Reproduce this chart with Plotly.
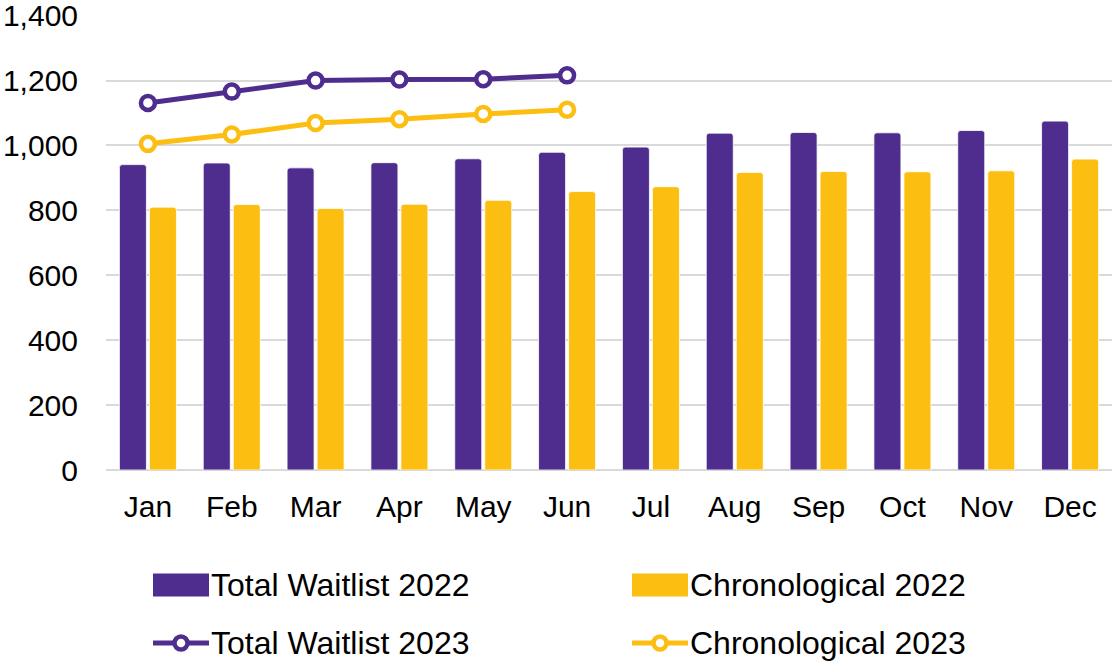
import plotly.graph_objects as go

months = ["Jan", "Feb", "Mar", "Apr", "May", "Jun", "Jul", "Aug", "Sep", "Oct", "Nov", "Dec"]
total_2022 = [941, 946, 931, 947, 959, 979, 995, 1038, 1040, 1039, 1046, 1075]
chrono_2022 = [810, 818, 806, 819, 831, 858, 873, 917, 920, 919, 922, 958]
months_2023 = ["Jan", "Feb", "Mar", "Apr", "May", "Jun"]
total_2023 = [1131, 1166, 1200, 1203, 1204, 1216]
chrono_2023 = [1005, 1034, 1069, 1081, 1097, 1110]
y_ticks = [0, 200, 400, 600, 800, 1000, 1200, 1400]

PURPLE = "#4e2d8e"
GOLD = "#fdbe12"
FONT = "Liberation Sans, Arial, sans-serif"

W, H = 1112, 664
# plot area in pixels
SL, SR, ST, SB = 106, 1112, 15, 470
Y_MAX = 1402  # a hair above 1,400 so the top gridline is drawn

fig = go.Figure()
fig.add_trace(go.Bar(x=months, y=total_2022, name="Total Waitlist 2022",
                     marker=dict(color=PURPLE, line=dict(color="white", width=0.8))))
fig.add_trace(go.Bar(x=months, y=chrono_2022, name="Chronological 2022",
                     marker=dict(color=GOLD, line=dict(color="white", width=0.8))))
fig.add_trace(go.Scatter(x=months_2023, y=total_2023, name="Total Waitlist 2023",
                         mode="lines+markers", line=dict(color=PURPLE, width=5),
                         marker=dict(symbol="circle", size=14, color="white",
                                     line=dict(color=PURPLE, width=4.5))))
fig.add_trace(go.Scatter(x=months_2023, y=chrono_2023, name="Chronological 2023",
                         mode="lines+markers", line=dict(color=GOLD, width=5),
                         marker=dict(symbol="circle", size=14, color="white",
                                     line=dict(color=GOLD, width=4.5))))


def px(x):
    return (x - SL) / (SR - SL)


def py(y):
    return (SB - y) / (SB - ST)


shapes = []
annotations = []
legend_items = [
    ("Total Waitlist 2022", PURPLE, "bar", 153, 585),
    ("Chronological 2022", GOLD, "bar", 632, 585),
    ("Total Waitlist 2023", PURPLE, "line", 153, 643),
    ("Chronological 2023", GOLD, "line", 632, 643),
]
for name, color, kind, x0, yc in legend_items:
    if kind == "bar":
        shapes.append(dict(type="rect", xref="paper", yref="paper",
                           x0=px(x0), x1=px(x0 + 56), y0=py(yc - 11.5), y1=py(yc + 11.5),
                           fillcolor=color, line=dict(width=0)))
    else:
        shapes.append(dict(type="line", xref="paper", yref="paper",
                           x0=px(x0), x1=px(x0 + 56), y0=py(yc), y1=py(yc),
                           line=dict(color=color, width=5)))
        shapes.append(dict(type="circle", xref="paper", yref="paper",
                           x0=px(x0 + 28 - 6.5), x1=px(x0 + 28 + 6.5),
                           y0=py(yc - 6.5), y1=py(yc + 6.5),
                           fillcolor="white", line=dict(color=color, width=4.5)))
    annotations.append(dict(text=name, xref="paper", yref="paper",
                            x=px(x0 + 56), y=py(yc), xanchor="left", yanchor="middle",
                            showarrow=False, font=dict(family=FONT, size=32, color="black")))

fig.update_layout(
    width=W, height=H,
    margin=dict(l=SL, r=W - SR, t=ST, b=H - SB, autoexpand=False),
    paper_bgcolor="white", plot_bgcolor="white",
    barmode="group", bargap=0.284, bargroupgap=0.1, barcornerradius=3,
    showlegend=False,
    font=dict(family=FONT, size=30, color="black"),
    shapes=shapes, annotations=annotations,
    xaxis=dict(type="category", categoryorder="array", categoryarray=months,
               range=[-0.5, len(months) - 0.5],
               showgrid=False, showline=False, ticks="", ticklabelstandoff=16,
               automargin=False,
               tickfont=dict(family=FONT, size=30, color="black")),
    yaxis=dict(range=[0, Y_MAX], tickvals=y_ticks, tickformat=",",
               showgrid=True, gridcolor="#d9d9d9", gridwidth=1.5,
               zeroline=True, zerolinecolor="#d9d9d9", zerolinewidth=1.5,
               showline=False, ticks="", ticklabelstandoff=27,
               ticklabeloverflow="allow", automargin=False,
               tickfont=dict(family=FONT, size=30, color="black")),
)

fig.write_html("out.html", config={"displayModeBar": False},
               post_script="document.body.style.margin='0';document.body.style.overflow='hidden';")
